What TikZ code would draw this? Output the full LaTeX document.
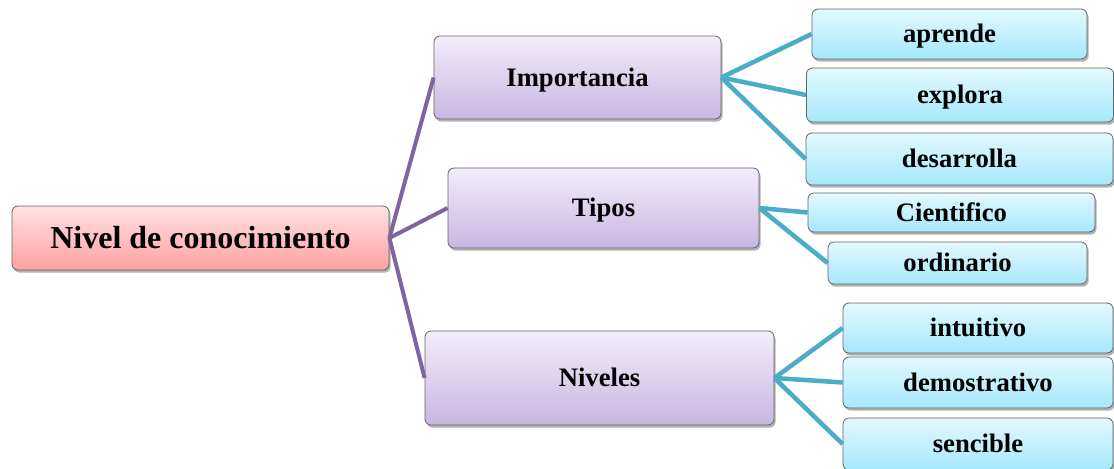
\documentclass[tikz,border=0pt]{standalone}
\usepackage{fontspec}
\setmainfont{Liberation Serif}
\usetikzlibrary{shadows}
\definecolor{rootTop}{RGB}{255,226,226}
\definecolor{rootBot}{RGB}{255,160,160}
\definecolor{midTop}{RGB}{243,237,250}
\definecolor{midBot}{RGB}{200,182,226}
\definecolor{leafTop}{RGB}{228,249,255}
\definecolor{leafBot}{RGB}{165,232,252}
\definecolor{lineViolet}{RGB}{128,100,162}
\definecolor{lineTeal}{RGB}{75,172,198}
\definecolor{boxEdge}{RGB}{100,100,100}

\def\u{0.75pt}

\tikzset{
  box/.style={draw=boxEdge, line width=0.6pt, rounded corners=4.5pt, inner sep=0pt,
    text height=13.2pt, text depth=0pt,
    drop shadow={shadow xshift=1.2pt, shadow yshift=-2pt, opacity=0.3, fill=black},
    font=\fontsize{20}{24}\selectfont\bfseries},
  rootbox/.style={box, top color=rootTop, bottom color=rootBot, text height=15.6pt,
    font=\fontsize{24}{28}\selectfont\bfseries},
  midbox/.style={box, top color=midTop, bottom color=midBot},
  leafbox/.style={box, top color=leafTop, bottom color=leafBot},
  violetline/.style={draw=lineViolet, line width=3pt},
  tealline/.style={draw=lineTeal, line width=3.4pt},
}

\begin{document}
\begin{tikzpicture}[x=\u, y=-\u]
\useasboundingbox (0,0) rectangle (1114,468);

% Root
\node[rootbox, minimum width=377*\u, minimum height=64*\u] (root) at (200.5,238) {Nivel de conocimiento};

% Middle level
\node[midbox, minimum width=287*\u, minimum height=83*\u] (imp) at (577.5,77.5) {Importancia};
\node[midbox, minimum width=311*\u, minimum height=80*\u] (tipos) at (603.5,208) {Tipos};
\node[midbox, minimum width=349*\u, minimum height=94*\u] (niveles) at (599.5,378) {Niveles};

% Leaves
\node[leafbox, minimum width=275*\u, minimum height=50*\u] (aprende) at (949.5,34) {aprende};
\node[leafbox, minimum width=307*\u, minimum height=54*\u] (explora) at (960,95) {explora};
\node[leafbox, minimum width=307*\u, minimum height=52*\u] (desarrolla) at (959.5,159) {desarrolla};
\node[leafbox, minimum width=287*\u, minimum height=39*\u] (cientifico) at (951.5,212.5) {Cientifico};
\node[leafbox, minimum width=259*\u, minimum height=42*\u] (ordinario) at (957.5,263) {ordinario};
\node[leafbox, minimum width=270*\u, minimum height=50*\u] (intuitivo) at (978,328) {intuitivo};
\node[leafbox, minimum width=270*\u, minimum height=51*\u] (demostrativo) at (978,382.5) {demostrativo};
\node[leafbox, minimum width=270*\u, minimum height=52*\u] (sencible) at (978,444) {sencible};

% Connectors
\foreach \m in {imp, tipos, niveles}
  \draw[violetline] (root.east) -- (\m.west);
\foreach \l in {aprende, explora, desarrolla}
  \draw[tealline] (imp.east) -- (\l.west);
\foreach \l in {cientifico, ordinario}
  \draw[tealline] (tipos.east) -- (\l.west);
\foreach \l in {intuitivo, demostrativo, sencible}
  \draw[tealline] (niveles.east) -- (\l.west);
\end{tikzpicture}
\end{document}
